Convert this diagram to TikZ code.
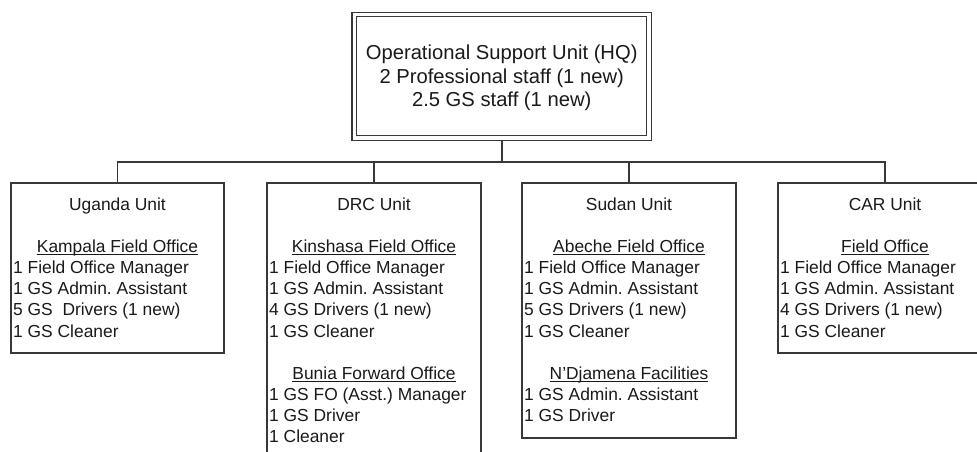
\documentclass[tikz,border=0pt]{standalone}
\usepackage{fontspec}
\setmainfont{Liberation Sans}
\frenchspacing
\definecolor{ink}{HTML}{1A1A1A}
\definecolor{rule}{HTML}{383838}
\begin{document}
\begin{tikzpicture}[x=1bp,y=-1bp,
  txt/.style={inner sep=0pt, text=ink, font=\fontsize{17.4bp}{21.1bp}\selectfont},
  ttl/.style={txt, anchor=base},
  item/.style={txt, anchor=base west},
  hqtxt/.style={inner sep=0pt, text=ink, anchor=base, font=\fontsize{20.2bp}{23.6bp}\selectfont},
  unitbox/.style={draw=rule, line width=1.4bp, inner sep=0pt, outer sep=0pt, anchor=north west},
  conn/.style={draw=rule, line width=1.8bp},
  ul/.style={draw=ink, line width=1.1bp}]
\useasboundingbox (0,0) rectangle (977,452);
\clip (0,0) rectangle (977,452);
\fill[white] (0,0) rectangle (977,452);

% headquarters box (double frame)
\node[draw=rule, line width=1.3bp, double=white, double distance=3.2bp,
      minimum width=294.7bp, minimum height=123.5bp, inner sep=0pt, outer sep=2.9bp]
      (hq) at (501.7,76.25) {};
\node[hqtxt] (hq-1) at (501.7,59.5) {Operational Support Unit (HQ)};
\node[hqtxt] (hq-2) at (501.7,83.1) {2 Professional staff (1 new)};
\node[hqtxt] (hq-3) at (501.7,106.7) {2.5 GS staff (1 new)};

% unit boxes
\node[unitbox, minimum width=213bp, minimum height=170bp] (ug) at (11,183) {};
\node[unitbox, minimum width=214bp, minimum height=290bp] (drc) at (267,183) {};
\node[unitbox, minimum width=214bp, minimum height=255bp] (sd) at (522,183) {};
\node[unitbox, minimum width=214bp, minimum height=170bp] (car) at (778,183) {};

% connectors
\coordinate (bus) at (501.7,162);
\draw[conn] (hq.south) -- (bus);
\draw[conn] (ug.north) |- (bus) -| (car.north);
\draw[conn] (drc.north) -- (drc.north |- bus);
\draw[conn] (sd.north) -- (sd.north |- bus);

% Uganda
\node[ttl] (ug-t) at (ug.north |- 0,210.5) {Uganda Unit};
\node[ttl] (ug-h1) at (ug.north |- 0,252.7) {Kampala Field Office};
\foreach \t [count=\i] in {1 Field Office Manager, 1 GS Admin. Assistant, 5 GS\ \ Drivers (1 new), 1 GS Cleaner}
  \node[item] (ug-\i) at (13,252.7+21.1*\i) {\t};

% DRC
\node[ttl] (drc-t) at (drc.north |- 0,210.5) {DRC Unit};
\node[ttl] (drc-h1) at (drc.north |- 0,252.7) {Kinshasa Field Office};
\foreach \t [count=\i] in {1 Field Office Manager, 1 GS Admin. Assistant, 4 GS Drivers (1 new), 1 GS Cleaner}
  \node[item] (drc-a\i) at (269,252.7+21.1*\i) {\t};
\node[ttl] (drc-h2) at (drc.north |- 0,379.3) {Bunia Forward Office};
\foreach \t [count=\i] in {1 GS FO (Asst.) Manager, 1 GS Driver, 1 Cleaner}
  \node[item] (drc-b\i) at (269,379.3+21.1*\i) {\t};

% Sudan
\node[ttl] (sd-t) at (sd.north |- 0,210.5) {Sudan Unit};
\node[ttl] (sd-h1) at (sd.north |- 0,252.7) {Abeche Field Office};
\foreach \t [count=\i] in {1 Field Office Manager, 1 GS Admin. Assistant, 5 GS Drivers (1 new), 1 GS Cleaner}
  \node[item] (sd-a\i) at (524,252.7+21.1*\i) {\t};
\node[ttl] (sd-h2) at (sd.north |- 0,379.3) {N’Djamena Facilities};
\foreach \t [count=\i] in {1 GS Admin. Assistant, 1 GS Driver}
  \node[item] (sd-b\i) at (524,379.3+21.1*\i) {\t};

% CAR
\node[ttl] (car-t) at (car.north |- 0,210.5) {CAR Unit};
\node[ttl] (car-h1) at (car.north |- 0,252.7) {Field Office};
\foreach \t [count=\i] in {1 Field Office Manager, 1 GS Admin. Assistant, 4 GS Drivers (1 new), 1 GS Cleaner}
  \node[item] (car-\i) at (780,252.7+21.1*\i) {\t};

% underlined office headings
\foreach \h in {ug-h1, drc-h1, drc-h2, sd-h1, sd-h2, car-h1}
  \draw[ul] ([yshift=-2.2bp]\h.base west) -- ([yshift=-2.2bp]\h.base east);
\end{tikzpicture}
\end{document}
